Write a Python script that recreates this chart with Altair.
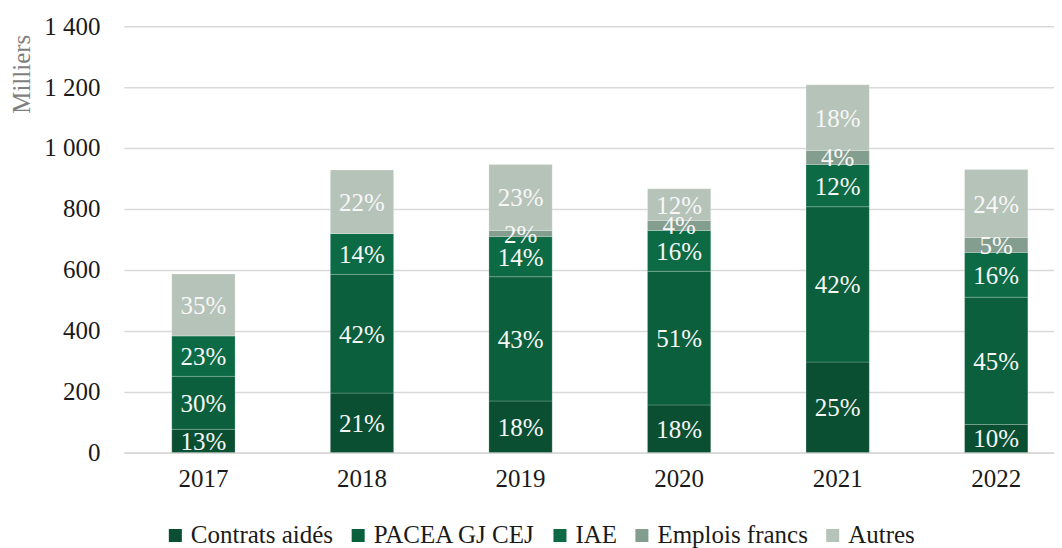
import altair as alt
import pandas as pd

years = ["2017", "2018", "2019", "2020", "2021", "2022"]
categories = ["Contrats aidés", "PACEA GJ CEJ", "IAE", "Emplois francs", "Autres"]
colors = ["#0a4f32", "#0b5f3c", "#0c6b44", "#839e8f", "#b6c3b9"]

contrats = [76, 195, 169, 156, 297, 92]
pacea = [174, 390, 408, 439, 510, 418]
iae = [133, 134, 132, 134, 139, 147]
emplois = [0, 0, 20, 33, 46, 49]
autres = [203, 209, 217, 104, 216, 223]

contrats_pct = ["13%", "21%", "18%", "18%", "25%", "10%"]
pacea_pct = ["30%", "42%", "43%", "51%", "42%", "45%"]
iae_pct = ["23%", "14%", "14%", "16%", "12%", "16%"]
emplois_pct = ["", "", "2%", "4%", "4%", "5%"]
autres_pct = ["35%", "22%", "23%", "12%", "18%", "24%"]

y_ticks = [0, 200, 400, 600, 800, 1000, 1200, 1400]

series = [contrats, pacea, iae, emplois, autres]
labels = [contrats_pct, pacea_pct, iae_pct, emplois_pct, autres_pct]

rows = []
for i, yr in enumerate(years):
    for k, cat in enumerate(categories):
        rows.append(dict(year=yr, cat=cat, value=series[k][i], label=labels[k][i], order=k))
df = pd.DataFrame(rows)

FONT = "Liberation Serif"
FS = 25

base = alt.Chart(df).transform_stack(
    stack="value", groupby=["year"], as_=["y0", "y1"],
    sort=[alt.SortField("order", order="ascending")]
).transform_calculate(mid="(datum.y0 + datum.y1) / 2")

x_enc = alt.X(
    "year:N", title=None, sort=years,
    scale=alt.Scale(paddingInner=0.601, paddingOuter=0.2335, align=0.647),
    axis=alt.Axis(labelAngle=0, labelPadding=14, ticks=False, domain=True,
                  domainColor="#d9d9d9", domainWidth=1.5),
)

bars = base.mark_bar(stroke="#ffffff", strokeWidth=1, strokeOpacity=0.2).encode(
    x=x_enc,
    y=alt.Y(
        "y0:Q",
        scale=alt.Scale(domain=[0, 1400], nice=False),
        axis=alt.Axis(
            values=y_ticks,
            labelExpr="replace(format(datum.value, ','), ',', ' ')",
            title="Milliers",
            titleColor="#7f7f7f",
            titleFontWeight="normal",
            titleAngle=270,
            titleAlign="right",
            titleBaseline="alphabetic",
            titleX=-94,
            titleY=8,
            ticks=False,
            tickSize=0,
            labelPadding=24,
            domain=False,
            grid=True,
            gridColor="#d9d9d9",
            gridWidth=1.5,
        ),
    ),
    y2="y1:Q",
    color=alt.Color(
        "cat:N",
        scale=alt.Scale(domain=categories, range=colors),
        legend=alt.Legend(
            title=None,
            orient="none",
            direction="horizontal",
            legendX=39,
            legendY=497,
            symbolType="square",
            symbolSize=170,
            symbolStrokeWidth=0,
            labelFont=FONT,
            labelFontSize=FS,
            labelColor="#1a1a1a",
            labelOffset=3,
            labelLimit=0,
            columnPadding=12,
            padding=0,
        ),
    ),
    order=alt.Order("order:Q"),
)

text = base.transform_filter("datum.value > 0").mark_text(
    font=FONT, fontSize=FS, color="#f7f7f7", baseline="middle", dy=1
).encode(
    x=alt.X("year:N", sort=years),
    y=alt.Y("mid:Q"),
    text="label:N",
)

chart = alt.layer(bars, text).properties(
    width=931,
    height=426.6,
    padding={"left": 2, "top": 6, "right": 0, "bottom": 0},
).configure_view(stroke=None).configure_axis(
    labelFont=FONT, labelFontSize=FS, labelColor="#1a1a1a",
    titleFont=FONT, titleFontSize=FS,
)

chart.save("out.html", embed_options={"renderer": "svg", "actions": False})
